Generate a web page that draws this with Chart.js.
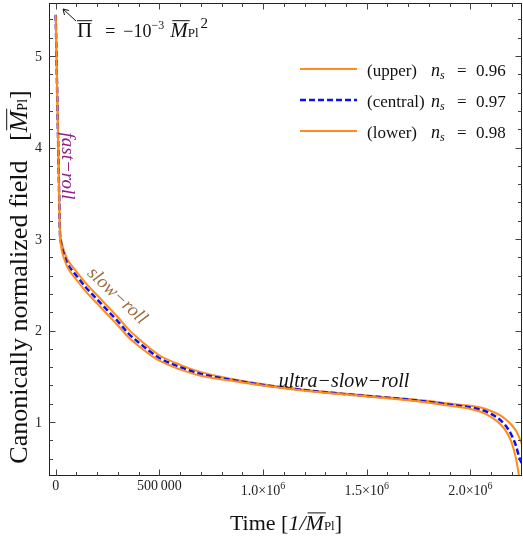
<!DOCTYPE html>
<html><head><meta charset="utf-8">
<script src="https://cdn.jsdelivr.net/npm/chart.js@4"></script>
<style>html,body{margin:0;padding:0;background:#fff}#wrap{width:523px;height:540px}</style>
</head><body><div id="wrap"><canvas id="c" width="523" height="540"></canvas></div>
<script>
// ---- data ----
const times = [0, 5000, 10000, 15000, 20000, 25000, 30000, 40000, 55000, 100000, 150000, 200000, 250000, 300000, 350000, 400000, 450000, 500000, 600000, 700000, 850000, 1000000, 1100000, 1300000, 1500000, 1700000, 1800000, 1900000, 2000000, 2050000, 2100000, 2150000, 2180000, 2200000, 2220000, 2235000, 2249000];
const upper = [5.45, 4.87, 4.29, 3.71, 3.13, 3.0, 2.95, 2.87, 2.785, 2.645, 2.505, 2.385, 2.265, 2.145, 2.015, 1.91, 1.815, 1.73, 1.625, 1.545, 1.47, 1.412, 1.38, 1.33, 1.29, 1.252, 1.23, 1.202, 1.177, 1.158, 1.12, 1.065, 1.01, 0.965, 0.905, 0.835, 0.75];
const central = [5.45, 4.86, 4.27, 3.69, 3.1, 2.97, 2.91, 2.83, 2.74, 2.6, 2.46, 2.34, 2.22, 2.1, 1.97, 1.87, 1.78, 1.70, 1.60, 1.525, 1.46, 1.405, 1.375, 1.325, 1.285, 1.245, 1.22, 1.19, 1.16, 1.135, 1.09, 1.01, 0.93, 0.85, 0.74, 0.62, 0.54];
const lower = [5.45, 4.85, 4.25, 3.67, 3.07, 2.94, 2.87, 2.79, 2.70, 2.555, 2.415, 2.295, 2.175, 2.055, 1.93, 1.83, 1.745, 1.67, 1.575, 1.505, 1.45, 1.398, 1.37, 1.32, 1.28, 1.238, 1.21, 1.178, 1.143, 1.112, 1.055, 0.965, 0.87, 0.77, 0.6, 0.4, 0.1];
const seriesNames = ['(upper)', '(central)', '(lower)'];
const nsValues = ['0.96', '0.97', '0.98'];
const xMajor = [0, 500000, 1000000, 1500000, 2000000];
const xLabels = [['0', ''], ['500\u2009000', ''], ['1.0\u00d710', '6'], ['1.5\u00d710', '6'], ['2.0\u00d710', '6']];
const yMajor = [1, 2, 3, 4, 5];
const yLabels = ['1', '2', '3', '4', '5'];
const xMinorStep = 100000;
const yMinorStep = 0.2;

const SERIF = '"Liberation Serif","Times New Roman",serif';
const ORANGE = '#ff8c1a';
const BLUE = '#1010ee';

function pts(vals) { return times.map((t, i) => ({x: t, y: vals[i]})); }

function rich(ctx, x, y, segs, align) {
  let w = 0;
  segs.forEach(s => { ctx.font = s.f; s.w = ctx.measureText(s.t).width; w += s.w + (s.gap || 0); });
  let cx = align === 'center' ? x - w / 2 : (align === 'right' ? x - w : x);
  segs.forEach(s => {
    cx += (s.gap || 0);
    ctx.font = s.f;
    ctx.textAlign = 'left';
    ctx.textBaseline = 'alphabetic';
    ctx.fillText(s.t, cx, y + (s.dy || 0));
    if (s.over) {
      const sz = parseFloat(s.f.match(/(\d+(\.\d+)?)px/)[1]);
      ctx.save();
      ctx.lineWidth = 1;
      ctx.strokeStyle = ctx.fillStyle;
      ctx.beginPath();
      const oy = y + (s.dy || 0) - sz * 0.8;
      ctx.moveTo(cx + (s.oshift || 0), oy + 0.5);
      ctx.lineTo(cx + s.w + (s.oshift || 0), oy + 0.5);
      ctx.stroke();
      ctx.restore();
    }
    cx += s.w;
  });
  return w;
}

const decor = {
  id: 'decor',
  afterDraw(chart) {
    const ctx = chart.ctx;
    const a = chart.chartArea;
    const xs = chart.scales.x, ys = chart.scales.y;
    ctx.save();
    // frame
    ctx.strokeStyle = '#222';
    ctx.lineWidth = 1;
    ctx.strokeRect(Math.round(a.left) + 0.5, Math.round(a.top) + 0.5, Math.round(a.right - a.left) - 1, Math.round(a.bottom - a.top) - 1);
    // ticks
    ctx.strokeStyle = '#444';
    ctx.beginPath();
    const L = Math.round(a.left) + 0.5, R = Math.round(a.right) - 0.5, T = Math.round(a.top) + 0.5, B = Math.round(a.bottom) - 0.5;
    for (let v = 0; v <= xs.max; v += xMinorStep) {
      const px = Math.round(xs.getPixelForValue(v)) + 0.5;
      const major = xMajor.includes(v);
      const len = major ? 6 : 3.5;
      ctx.moveTo(px, B); ctx.lineTo(px, B - len);
      ctx.moveTo(px, T); ctx.lineTo(px, T + len);
    }
    for (let k = Math.ceil(ys.min / yMinorStep); k * yMinorStep <= ys.max; k++) {
      const v = +(k * yMinorStep).toFixed(3);
      const py = Math.round(ys.getPixelForValue(v)) + 0.5;
      const major = yMajor.includes(v);
      const len = major ? 6 : 3.5;
      ctx.moveTo(L, py); ctx.lineTo(L + len, py);
      ctx.moveTo(R, py); ctx.lineTo(R - len, py);
    }
    ctx.stroke();
    // tick labels
    ctx.fillStyle = '#222';
    xMajor.forEach((v, i) => {
      const px = xs.getPixelForValue(v);
      const [m, sup] = xLabels[i];
      const segs = [{t: m, f: '14px ' + SERIF, dy: sup ? 5 : 0}];
      if (sup) segs.push({t: sup, f: '10px ' + SERIF, dy: -1});
      rich(ctx, px, 490, segs, 'center');
    });
    yMajor.forEach((v, i) => {
      const py = ys.getPixelForValue(v);
      ctx.font = '14px ' + SERIF;
      ctx.textAlign = 'right';
      ctx.textBaseline = 'middle';
      ctx.fillText(yLabels[i], 42, py + 1);
    });
    // axis titles
    ctx.fillStyle = '#111';
    rich(ctx, 286, 530, [
      {t: 'Time [', f: '22px ' + SERIF},
      {t: '1/', f: 'italic 22px ' + SERIF},
      {t: 'M', f: 'italic 22px ' + SERIF, over: true, oshift: 2},
      {t: 'Pl', f: '13px ' + SERIF},
      {t: ']', f: '22px ' + SERIF}
    ], 'center');
    ctx.save();
    ctx.translate(27, 277);
    ctx.rotate(-Math.PI / 2);
    rich(ctx, 0, 0, [
      {t: 'Canonically normalized field   [', f: '26px ' + SERIF},
      {t: 'M', f: 'italic 26px ' + SERIF, over: true, oshift: 2},
      {t: 'Pl', f: '14px ' + SERIF},
      {t: ']', f: '26px ' + SERIF}
    ], 'center');
    ctx.restore();
    // annotation with arrow
    ctx.strokeStyle = '#111';
    ctx.lineWidth = 1;
    ctx.beginPath();
    ctx.moveTo(76, 21); ctx.lineTo(63, 9);
    ctx.moveTo(63, 9); ctx.lineTo(69, 10.5);
    ctx.moveTo(63, 9); ctx.lineTo(64.5, 15);
    ctx.stroke();
    rich(ctx, 77, 37, [
      {t: '\u03a0', f: '21px ' + SERIF, over: true},
      {t: '=', f: '18px ' + SERIF, gap: 13},
      {t: '\u221210', f: '18px ' + SERIF, gap: 8},
      {t: '\u22123', f: '12px ' + SERIF, dy: -8},
      {t: 'M', f: 'italic 21px ' + SERIF, over: true, oshift: 2, gap: 6},
      {t: 'Pl', f: '13px ' + SERIF},
      {t: '2', f: '15px ' + SERIF, dy: -9, gap: 2}
    ], 'left');
    // legend
    const legendStyles = [
      {c: ORANGE, w: 2, d: []},
      {c: BLUE, w: 2.5, d: [6, 3]},
      {c: ORANGE, w: 2, d: []}
    ];
    seriesNames.forEach((name, i) => {
      const y = 69 + 31 * i;
      ctx.save();
      ctx.strokeStyle = legendStyles[i].c;
      ctx.lineWidth = legendStyles[i].w;
      ctx.setLineDash(legendStyles[i].d);
      ctx.beginPath();
      ctx.moveTo(300, y); ctx.lineTo(357, y);
      ctx.stroke();
      ctx.restore();
      ctx.fillStyle = '#111';
      rich(ctx, 367, y + 7, [{t: name, f: '17px ' + SERIF}], 'left');
      rich(ctx, 431, y + 7, [{t: 'n', f: 'italic 18px ' + SERIF}, {t: 's', f: 'italic 12px ' + SERIF, dy: 3}], 'left');
      rich(ctx, 457, y + 7, [{t: '=', f: '17px ' + SERIF}], 'left');
      rich(ctx, 476, y + 7, [{t: nsValues[i], f: '17px ' + SERIF}], 'left');
    });
    // phase labels
    ctx.save();
    ctx.fillStyle = '#8a1f8a';
    ctx.translate(67, 166);
    ctx.rotate(Math.PI / 2);
    ctx.font = 'italic 19px ' + SERIF;
    ctx.textAlign = 'center';
    ctx.textBaseline = 'middle';
    ctx.fillText('fast\u2212roll', 0, 0);
    ctx.restore();
    ctx.save();
    ctx.fillStyle = '#9b6e42';
    ctx.translate(117, 296);
    ctx.rotate(43 * Math.PI / 180);
    ctx.font = 'italic 19px ' + SERIF;
    ctx.textAlign = 'center';
    ctx.textBaseline = 'middle';
    ctx.fillText('slow\u2212roll', 0, 0);
    ctx.restore();
    ctx.fillStyle = '#111';
    ctx.font = 'italic 20px ' + SERIF;
    ctx.textAlign = 'center';
    ctx.textBaseline = 'alphabetic';
    ctx.fillText('ultra\u2212slow\u2212roll', 344, 387);
    ctx.restore();
  }
};

new Chart(document.getElementById('c'), {
  type: 'line',
  data: {
    datasets: [
      {label: 'upper', data: pts(upper), borderColor: ORANGE, borderWidth: 2, pointRadius: 0, cubicInterpolationMode: 'monotone', order: 3},
      {label: 'central', data: pts(central), borderColor: BLUE, borderWidth: 2.5, borderDash: [6, 3], pointRadius: 0, cubicInterpolationMode: 'monotone', order: 2},
      {label: 'lower', data: pts(lower), borderColor: ORANGE, borderWidth: 2, pointRadius: 0, cubicInterpolationMode: 'monotone', order: 1}
    ]
  },
  options: {
    responsive: false,
    animation: false,
    devicePixelRatio: 1,
    layout: {padding: {top: 3, right: 1, left: 0, bottom: 0}},
    plugins: {legend: {display: false}, tooltip: {enabled: false}},
    scales: {
      x: {
        type: 'linear', min: -32300, max: 2249000,
        afterBuildTicks: s => { s.ticks = xMajor.map(v => ({value: v})); },
        afterFit: s => { s.height = 64; },
        ticks: {display: false}, grid: {display: false}, border: {display: false}
      },
      y: {
        type: 'linear', min: 0.41, max: 5.58,
        afterBuildTicks: s => { s.ticks = yMajor.map(v => ({value: v})); },
        afterFit: s => { s.width = 49; },
        ticks: {display: false}, grid: {display: false}, border: {display: false}
      }
    }
  },
  plugins: [decor]
});
</script>
</body></html>
